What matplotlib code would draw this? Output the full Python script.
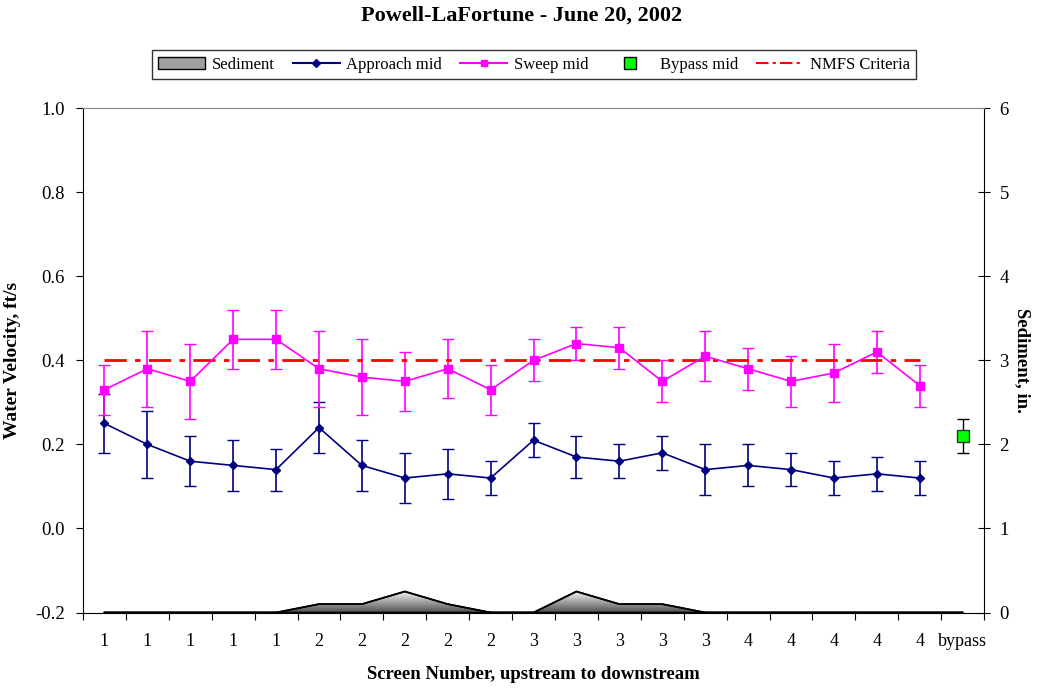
import numpy as np
import matplotlib
matplotlib.use('Agg')
from matplotlib import pyplot as plt
from matplotlib.lines import Line2D
from matplotlib.patches import Patch

plt.rcParams['font.family'] = ['Liberation Serif', 'DejaVu Serif']

labels = ['1'] * 5 + ['2'] * 5 + ['3'] * 5 + ['4'] * 5 + ['bypass']

approach = [0.25, 0.20, 0.16, 0.15, 0.14, 0.24, 0.15, 0.12, 0.13, 0.12,
            0.21, 0.17, 0.16, 0.18, 0.14, 0.15, 0.14, 0.12, 0.13, 0.12]
approach_hi = [0.32, 0.28, 0.22, 0.21, 0.19, 0.30, 0.21, 0.18, 0.19, 0.16,
               0.25, 0.22, 0.20, 0.22, 0.20, 0.20, 0.18, 0.16, 0.17, 0.16]
approach_lo = [0.18, 0.12, 0.10, 0.09, 0.09, 0.18, 0.09, 0.06, 0.07, 0.08,
               0.17, 0.12, 0.12, 0.14, 0.08, 0.10, 0.10, 0.08, 0.09, 0.08]

sweep = [0.33, 0.38, 0.35, 0.45, 0.45, 0.38, 0.36, 0.35, 0.38, 0.33,
         0.40, 0.44, 0.43, 0.35, 0.41, 0.38, 0.35, 0.37, 0.42, 0.34]
sweep_hi = [0.39, 0.47, 0.44, 0.52, 0.52, 0.47, 0.45, 0.42, 0.45, 0.39,
            0.45, 0.48, 0.48, 0.40, 0.47, 0.43, 0.41, 0.44, 0.47, 0.39]
sweep_lo = [0.27, 0.29, 0.26, 0.38, 0.38, 0.29, 0.27, 0.28, 0.31, 0.27,
            0.35, 0.40, 0.38, 0.30, 0.35, 0.33, 0.29, 0.30, 0.37, 0.29]

bypass = 0.22
bypass_hi = 0.26
bypass_lo = 0.18

nmfs = 0.40

sediment = [0, 0, 0, 0, 0, 0.1, 0.1, 0.25, 0.1, 0,
            0, 0.25, 0.1, 0.1, 0, 0, 0, 0, 0, 0, 0]

x = np.arange(len(approach))
xs = np.arange(len(sediment))

fig = plt.figure(figsize=(10.37, 6.89), dpi=100)
ax = fig.add_axes([0.080, 0.111, 0.869, 0.732])
ax2 = ax.twinx()
ax.set_zorder(ax2.get_zorder() + 1)
ax.patch.set_visible(False)

# sediment area, gradient clipped to the polygon
poly = ax2.fill_between(xs, 0, sediment, facecolor='none', edgecolor='black', lw=1.2)
grad = np.linspace(0.3, 1.0, 256).reshape(-1, 1)
img = ax2.imshow(grad, cmap='gray', vmin=0, vmax=1, aspect='auto',
                 extent=[-0.5, 20.5, 0, 0.27], origin='lower', zorder=0.5)
img.set_clip_path(poly.get_paths()[0], transform=ax2.transData)
ax2.plot(xs, sediment, color='black', lw=1.2)
ax2.set_ylim(0, 6)
ax2.set_yticks(range(7))
ax2.tick_params(axis='y', direction='inout', length=8, labelsize=13.5, pad=7)
ax2.set_ylabel('Sediment, in.', rotation=-90, labelpad=16, fontsize=13.5, fontweight='bold')

navy = '#000080'
pink = '#ff00ff'
ax.errorbar(x, approach,
            yerr=[np.array(approach) - np.array(approach_lo), np.array(approach_hi) - np.array(approach)],
            color=navy, marker='D', markersize=4.5, lw=1.2, capsize=4.5, elinewidth=1.2)
ax.errorbar(x, sweep,
            yerr=[np.array(sweep) - np.array(sweep_lo), np.array(sweep_hi) - np.array(sweep)],
            color=pink, marker='s', markersize=6, lw=1.2, capsize=4.5, elinewidth=1.2)
ax.errorbar([20], [bypass], yerr=[[bypass - bypass_lo], [bypass_hi - bypass]],
            color='black', marker='s', markersize=8, mfc='#00ff00', mec='#333333',
            capsize=4.5, elinewidth=1.0, ls='none')
ax.plot([0, 19], [nmfs, nmfs], color='red', ls=(0, (8, 3, 2, 3)), lw=2)

ax.set_xlim(-0.5, 20.5)
ax.set_ylim(-0.2, 1.0)
ax.set_yticks(np.arange(-0.2, 1.01, 0.2))
ax.set_yticklabels(['%.1f' % v for v in np.arange(-0.2, 1.01, 0.2)])
ax.tick_params(axis='y', direction='out', length=5, labelsize=13.5, pad=8)
ax.set_xticks(np.arange(-0.5, 21, 1))
ax.set_xticklabels([])
ax.tick_params(axis='x', which='major', direction='out', length=5)
ax.set_xticks(x.tolist() + [20], minor=True)
ax.set_xticklabels(labels, minor=True)
ax.tick_params(axis='x', which='minor', length=0, pad=15, labelsize=13)
ax.set_ylabel('Water Velocity, ft/s', fontsize=14, fontweight='bold', labelpad=10)
ax.set_xlabel('Screen Number, upstream to downstream', fontsize=13.5, fontweight='bold', labelpad=11)

ax.spines['right'].set_visible(False)
ax.spines['top'].set_color('#888888')
ax2.spines['top'].set_visible(False)
ax2.spines['left'].set_visible(False)
ax2.spines['bottom'].set_visible(False)

fig.text(0.503, 0.978, 'Powell-LaFortune - June 20, 2002', ha='center', va='center',
         fontsize=16, fontweight='bold')

handles = [
    Patch(facecolor='#a0a0a0', edgecolor='black', label='Sediment'),
    Line2D([], [], color=navy, marker='D', markersize=4, label='Approach mid'),
    Line2D([], [], color=pink, marker='s', markersize=5, label='Sweep mid'),
    Line2D([], [], color='none', marker='s', markersize=8, mfc='#00ff00', mec='black', label='Bypass mid'),
    Line2D([], [], color='red', ls=(0, (6, 2, 1.5, 2)), lw=1.5, label='NMFS Criteria'),
]
fig.legend(handles=handles, loc='center', bbox_to_anchor=(0.515, 0.906), ncol=5,
           frameon=True, fancybox=False, edgecolor='black', fontsize=12,
           handlelength=2.8, handletextpad=0.4, columnspacing=1.1,
           borderpad=0.4)

fig.savefig('out.png', dpi=100)
